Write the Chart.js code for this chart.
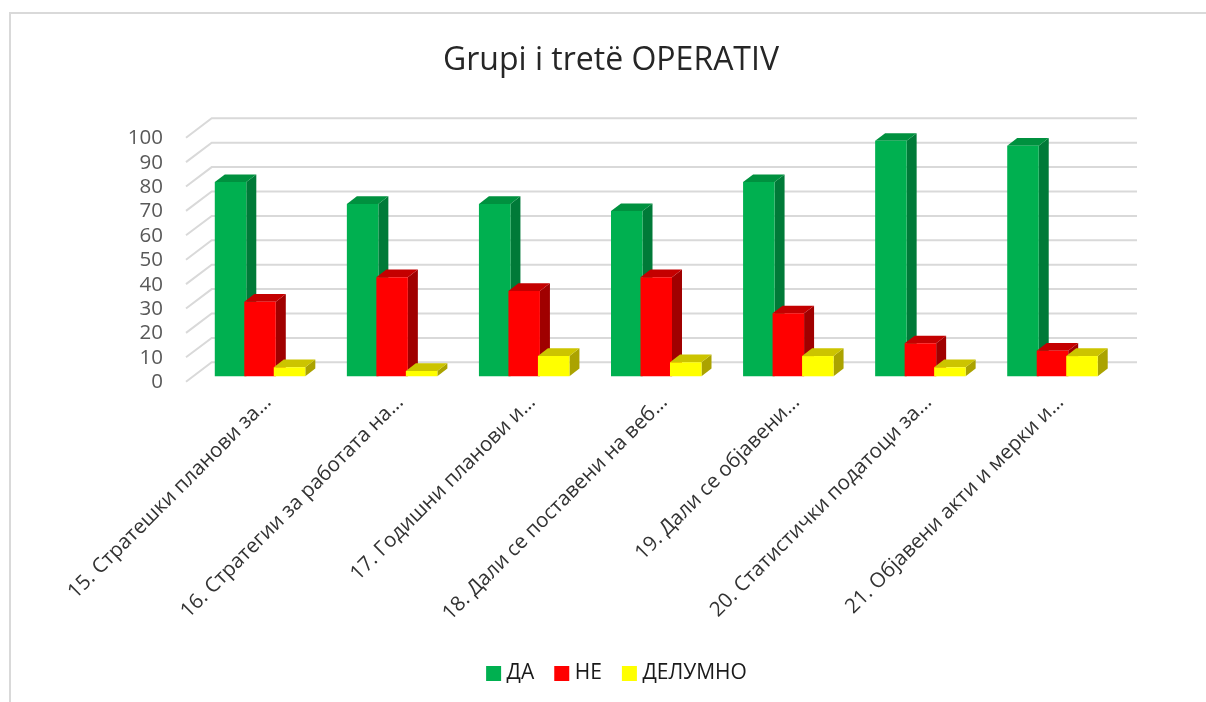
<!DOCTYPE html>
<html><head><meta charset="utf-8">
<style>html,body{margin:0;padding:0;background:#fff}canvas{display:block}</style>
<script src="https://cdn.jsdelivr.net/npm/chart.js@4/dist/chart.umd.min.js"></script>
</head><body>
<div style="width:1206px;height:702px;position:relative"><canvas id="c"></canvas></div>
<script>
const categories = ['15. Стратешки планови за...','16. Стратегии за работата на...','17. Годишни планови и...','18. Дали се поставени на веб...','19. Дали се објавени...','20. Статистички податоци за...','21. Објавени акти и мерки и...'];
const da = [79.6,70.6,70.6,67.7,79.6,96.5,94.5];
const ne = [30.6,40.6,35,40.6,25.8,13.5,10.5];
const delumno = [3.7,2.2,8.3,5.8,8.3,3.7,8.3];
const titleText = 'Grupi i tretë OPERATIV';
const FONT = '"Open Sans"';
const shades = [
 {side:'#007A38', top:'#00913F'},
 {side:'#A00000', top:'#C40000'},
 {side:'#ABA300', top:'#CCC400'}
];
const threeD = {
 id:'threeD',
 afterLayout(chart){ chart.legend.left += 8; chart.legend.right += 8; },
 beforeDraw(chart){
  const c = chart.ctx;
  c.save();
  c.strokeStyle='#D9D9D9'; c.lineWidth=2;
  c.beginPath(); c.moveTo(10,702); c.lineTo(10,13); c.lineTo(1206,13); c.stroke();
  const y = chart.scales.y;
  y.ticks.forEach(t=>{
    const p = y.getPixelForValue(t.value);
    c.beginPath(); c.moveTo(186,p+5.4); c.lineTo(211.7,p-14); c.lineTo(1137,p-14); c.stroke();
  });
  c.restore();
 },
 beforeDatasetDraw(){ return false; },
 afterDatasetsDraw(chart){
  const c = chart.ctx, dx=10, dy=-7.7;
  chart.data.datasets.forEach((ds,i)=>{
    const meta = chart.getDatasetMeta(i);
    meta.data.forEach(el=>{
      const l = el.x-el.width/2, r = el.x+el.width/2, t = el.y, b = el.base;
      c.fillStyle = shades[i].side;
      c.beginPath(); c.moveTo(r,t); c.lineTo(r+dx,t+dy); c.lineTo(r+dx,b+dy); c.lineTo(r,b); c.closePath(); c.fill();
      c.fillStyle = shades[i].top;
      c.beginPath(); c.moveTo(l,t); c.lineTo(l+dx,t+dy); c.lineTo(r+dx,t+dy); c.lineTo(r,t); c.closePath(); c.fill();
      el.draw(c);
    });
  });
 }
};
new Chart(document.getElementById('c'),{
 type:'bar',
 plugins:[threeD],
 data:{labels:categories,datasets:[
  {label:'ДА',data:da,backgroundColor:'#00B050'},
  {label:'НЕ',data:ne,backgroundColor:'#FF0000'},
  {label:'ДЕЛУМНО',data:delumno,backgroundColor:'#FFFF00'}
 ]},
 options:{
  responsive:true,maintainAspectRatio:false,animation:false,
  datasets:{bar:{barPercentage:1.068,categoryPercentage:0.67}},
  layout:{padding:{right:87.5,left:103.5,top:0,bottom:8}},
  plugins:{
   tooltip:{enabled:false},
   title:{display:true,text:titleText,color:'#262626',font:{family:FONT,size:32,weight:'normal',lineHeight:1.2},padding:{top:42,bottom:51.9}},
   legend:{position:'bottom',labels:{boxWidth:5,boxHeight:5,padding:25,color:'#1a1a1a',font:{family:FONT,size:21},
     generateLabels(ch){return Chart.defaults.plugins.legend.labels.generateLabels(ch).map(l=>({...l,lineWidth:10,strokeStyle:l.fillStyle}));}}}
  },
  scales:{
   x:{grid:{display:false},border:{display:false},
      afterFit(s){s.height=261.7;},
      ticks:{autoSkip:false,maxRotation:45,minRotation:45,padding:6,labelOffset:8,color:'#333333',font:{family:FONT,size:20.5}}},
   y:{min:0,max:100,grid:{display:false},border:{display:false},
      afterFit(s){s.width=90.5;},
      ticks:{stepSize:10,autoSkip:false,padding:23,labelOffset:6,color:'#595959',font:{family:FONT,size:20.5}}}
  }
 }
});
</script></body></html>
